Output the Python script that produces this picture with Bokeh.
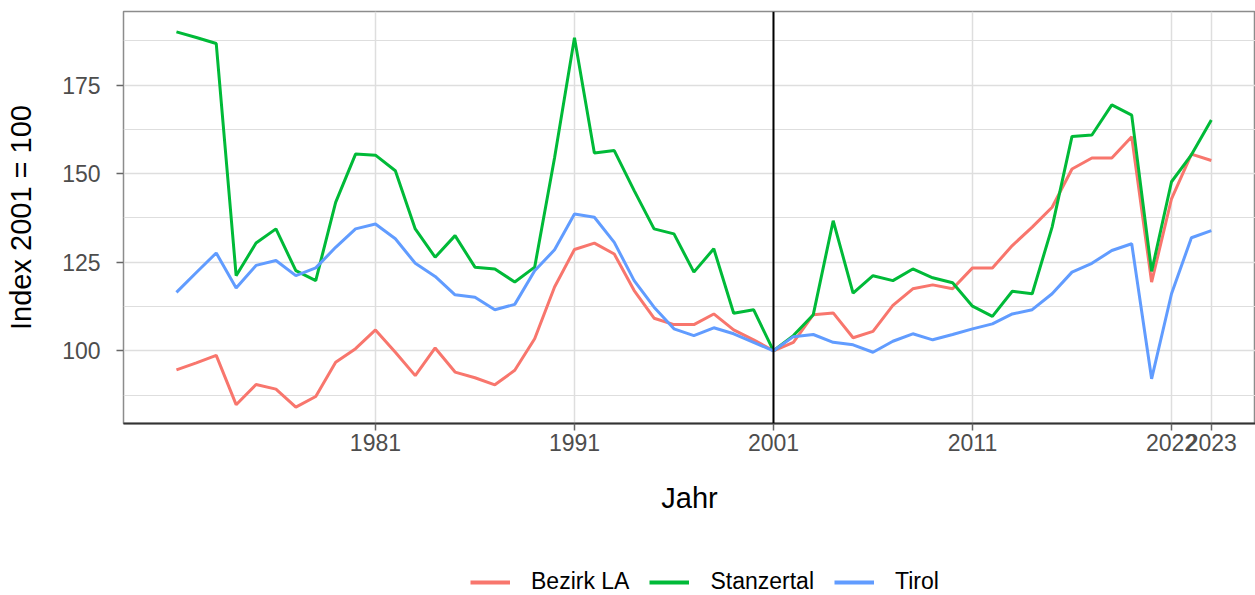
from bokeh.plotting import figure
from bokeh.layouts import column
from bokeh.models import ColumnDataSource, FixedTicker, Span, Legend, LegendItem, Range1d
from bokeh.embed import file_html
from bokeh.resources import INLINE

years = [1971, 1972, 1973, 1974, 1975, 1976, 1977, 1978, 1979, 1980,
         1981, 1982, 1983, 1984, 1985, 1986, 1987, 1988, 1989, 1990,
         1991, 1992, 1993, 1994, 1995, 1996, 1997, 1998, 1999, 2000,
         2001, 2002, 2003, 2004, 2005, 2006, 2007, 2008, 2009, 2010,
         2011, 2012, 2013, 2014, 2015, 2016, 2017, 2018, 2019, 2020,
         2021, 2022, 2023]

bezirk_la = [94.6, 96.6, 98.7, 84.8, 90.5, 89.2, 84.1, 87.1, 96.8, 100.6,
             105.9, 99.6, 93.0, 100.8, 94.0, 92.4, 90.4, 94.5, 103.4, 118.0,
             128.6, 130.4, 127.3, 117.0, 109.2, 107.4, 107.4, 110.4, 105.9, 103.1,
             100.0, 102.4, 110.2, 110.7, 103.7, 105.5, 112.8, 117.5, 118.6, 117.5,
             123.4, 123.4, 129.7, 134.9, 140.5, 151.3, 154.4, 154.4, 160.4, 119.4,
             142.9, 155.5, 153.7]

stanzertal = [190.0, 188.4, 186.7, 121.2, 130.4, 134.4, 122.6, 119.8, 141.9, 155.5,
              155.2, 150.8, 134.4, 126.4, 132.5, 123.6, 123.1, 119.4, 123.6, 154.5,
              188.3, 155.8, 156.5, 145.2, 134.4, 133.0, 122.2, 128.8, 110.6, 111.6,
              100.0, 104.3, 110.2, 136.7, 116.3, 121.2, 119.8, 123.1, 120.6, 119.2,
              112.6, 109.7, 116.8, 116.1, 134.9, 160.5, 160.9, 169.4, 166.5, 122.4,
              147.7, 155.3, 165.1]

tirol = [116.5, 122.1, 127.6, 117.7, 124.1, 125.5, 121.2, 123.4, 129.2, 134.4,
         135.8, 131.6, 124.7, 121.0, 115.8, 115.1, 111.6, 113.1, 122.6, 128.5,
         138.6, 137.7, 130.6, 119.8, 112.3, 106.2, 104.3, 106.5, 104.8, 102.4,
         100.0, 104.0, 104.6, 102.4, 101.7, 99.6, 102.7, 104.8, 103.1, 104.6,
         106.2, 107.6, 110.4, 111.6, 116.1, 122.2, 124.7, 128.3, 130.2, 92.1,
         116.1, 131.9, 133.9]

series_names = ["Bezirk LA", "Stanzertal", "Tirol"]
series_colors = ["#F8766D", "#00BA38", "#619CFF"]

x_tick_values = [1981, 1991, 2001, 2011, 2021, 2023]
x_tick_labels = ["1981", "1991", "2001", "2011", "2022", "2023"]
y_tick_values = [100, 125, 150, 175]
y_minor_values = [87.5, 112.5, 137.5, 162.5, 187.5]
reference_year = 2001

FONT = "Liberation Sans"
W = 1255
MAIN_H = 564
LEG_H = 31

source = ColumnDataSource(data={
    "year": years,
    "Bezirk LA": bezirk_la,
    "Stanzertal": stanzertal,
    "Tirol": tirol,
})

p = figure(width=W, height=MAIN_H, output_backend="svg", toolbar_location=None,
           x_range=Range1d(1968.34, 2025.22), y_range=Range1d(79.49, 195.74),
           min_border_left=123, min_border_right=0, min_border_top=11,
           min_border_bottom=MAIN_H - 423)

p.background_fill_color = "white"
p.border_fill_color = "white"
p.outline_line_color = "#8C8C8C"
p.outline_line_width = 1.5

# grids
p.xgrid.ticker = FixedTicker(ticks=x_tick_values)
p.xgrid.grid_line_color = "#DEDEDE"
p.xgrid.grid_line_width = 1.5
p.ygrid.ticker = FixedTicker(ticks=y_tick_values, minor_ticks=y_minor_values)
p.ygrid.grid_line_color = "#DEDEDE"
p.ygrid.grid_line_width = 1.5
p.ygrid.minor_grid_line_color = "#DEDEDE"
p.ygrid.minor_grid_line_width = 1.2

# axes
p.xaxis.ticker = FixedTicker(ticks=x_tick_values)
p.xaxis.major_label_overrides = {v: l for v, l in zip(x_tick_values, x_tick_labels)}
p.yaxis.ticker = FixedTicker(ticks=y_tick_values)

for ax in (p.xaxis[0], p.yaxis[0]):
    ax.major_tick_in = 0
    ax.major_tick_out = 7
    ax.major_tick_line_color = "#666666"
    ax.major_tick_line_width = 1.5
    ax.minor_tick_line_color = None
    ax.major_label_text_font = FONT
    ax.major_label_text_font_size = "23px"
    ax.major_label_text_color = "#4D4D4D"
    ax.axis_label_text_font = FONT
    ax.axis_label_text_font_size = "29px"
    ax.axis_label_text_font_style = "normal"
    ax.axis_label_text_color = "black"

p.xaxis.axis_line_color = "#333333"
p.xaxis.axis_line_width = 2
p.yaxis.axis_line_color = None
p.xaxis.major_label_standoff = 3
p.yaxis.major_label_standoff = 16
p.xaxis.axis_label = "Jahr"
p.yaxis.axis_label = "Index 2001 = 100"
p.xaxis.axis_label_standoff = 28
p.yaxis.axis_label_standoff = 22

for name, color in zip(series_names, series_colors):
    p.line(x="year", y=name, source=source, line_color=color, line_width=3)

p.add_layout(Span(location=reference_year, dimension="height",
                  line_color="black", line_width=2))

# legend in its own strip below the plot (its lines lie outside its view)
lg = figure(width=W, height=LEG_H, output_backend="svg", toolbar_location=None,
            x_range=Range1d(0, 1), y_range=Range1d(0, 1),
            min_border=0, min_border_left=0, min_border_right=0,
            min_border_top=0, min_border_bottom=0)
lg.axis.visible = False
lg.grid.visible = False
lg.outline_line_color = None
lg.background_fill_color = "white"
lg.border_fill_color = "white"

items = []
for name, color in zip(series_names, series_colors):
    r = lg.line(x="year", y=name, source=source, line_color=color, line_width=4)
    items.append(LegendItem(label=name, renderers=[r]))

legend = Legend(items=items, orientation="horizontal", location=(347, 0),
                padding=0, margin=0, spacing=20, label_standoff=21,
                glyph_width=40, glyph_height=20,
                label_text_font=FONT, label_text_font_size="23px",
                label_text_color="black",
                border_line_color=None, background_fill_alpha=0)
lg.add_layout(legend)

layout = column(p, lg, spacing=0)

open("out.html", "w").write(file_html(layout, INLINE))
